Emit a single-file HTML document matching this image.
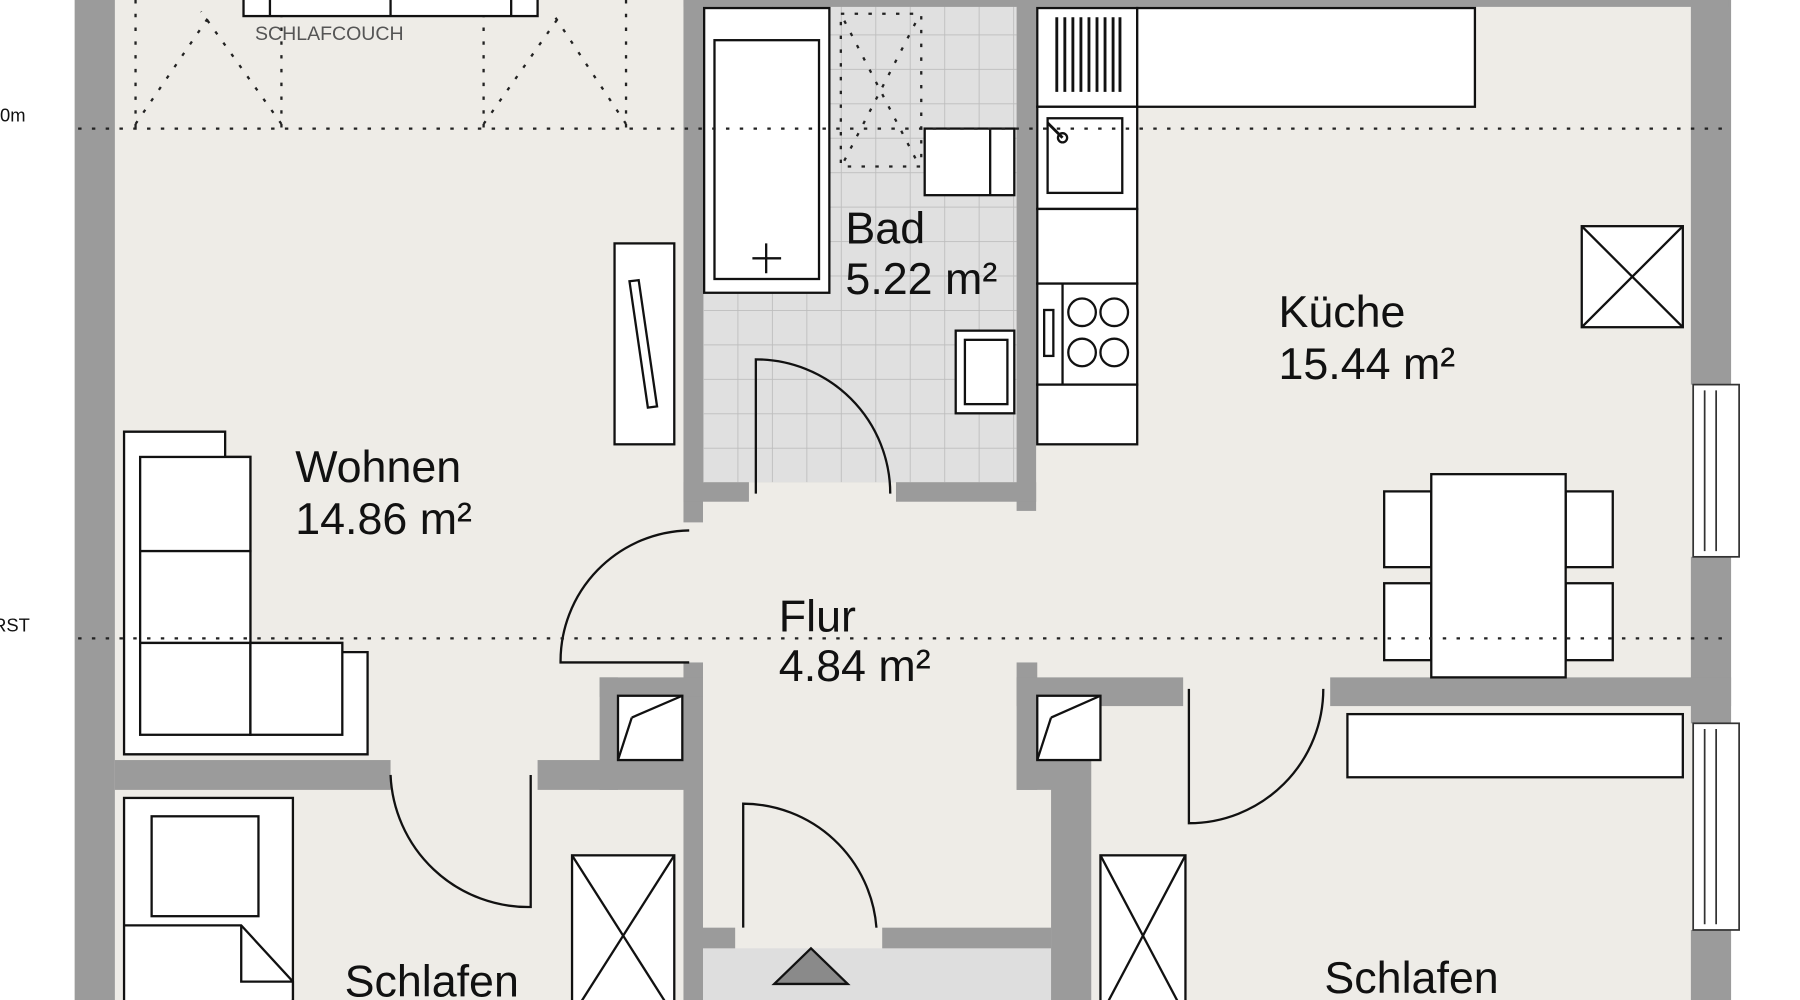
<!DOCTYPE html>
<html><head><meta charset="utf-8"><style>
html,body{margin:0;padding:0;background:#fff;}
svg{display:block}
text{font-family:"Liberation Sans",sans-serif;fill:#111}
</style></head><body>
<svg width="1800" height="1000" viewBox="0 0 1567 871" preserveAspectRatio="none" xmlns="http://www.w3.org/2000/svg">
<defs>
<pattern id="tile" x="612" y="0" width="30" height="30" patternUnits="userSpaceOnUse">
<rect width="30" height="30" fill="#e0e0e0"/>
<path d="M0 0H30M0 0V30" stroke="#bdbdbd" stroke-width="1.5"/>
</pattern>
</defs>
<rect x="0" y="0" width="1567" height="871" fill="#fff"/>
<rect x="65" y="0" width="1450" height="871" fill="#eeece7"/>
<rect x="1507" y="0" width="60" height="871" fill="#fff"/>
<rect x="612" y="5" width="273" height="415" fill="url(#tile)"/>
<rect x="612" y="826" width="303" height="45" fill="#dedede"/>
<polygon points="674,857 738,857 706,826" fill="#8a8a8a" stroke="#111" stroke-width="2"/>
<g stroke="#222" stroke-width="2" stroke-dasharray="3,9" fill="none">
<line x1="118" y1="0" x2="118" y2="112"/>
<line x1="245" y1="0" x2="245" y2="112"/>
<line x1="421" y1="0" x2="421" y2="112"/>
<line x1="545" y1="0" x2="545" y2="112"/>
<line x1="118" y1="108" x2="185" y2="10"/>
<line x1="245" y1="108" x2="175" y2="10"/>
<line x1="421" y1="108" x2="490" y2="10"/>
<line x1="545" y1="108" x2="480" y2="10"/>
<rect x="732" y="12" width="70" height="133"/>
<line x1="735" y1="140" x2="798" y2="18"/>
<line x1="735" y1="18" x2="798" y2="140"/>
</g>
<g fill="#fff" stroke="#111" stroke-width="2">
<rect x="212" y="-5" width="256" height="19"/>
<line x1="235" y1="0" x2="235" y2="14"/><line x1="340" y1="0" x2="340" y2="14"/><line x1="445" y1="0" x2="445" y2="14"/>
</g>
<text x="222" y="35" font-size="17" style="fill:#555">SCHLAFCOUCH</text>
<text x="0" y="106" font-size="16">0m</text>
<text x="-6" y="550" font-size="16">RST</text>
<g fill="#9b9b9b">
<rect x="65" y="0" width="35" height="871"/>
<rect x="1472" y="0" width="35" height="335"/>
<rect x="1472" y="485" width="35" height="145"/>
<rect x="1472" y="810" width="35" height="61"/>
<rect x="595" y="0" width="910" height="6"/>
<rect x="595" y="0" width="17" height="455"/>
<rect x="885" y="0" width="17" height="445"/>
<rect x="595" y="420" width="57" height="17"/>
<rect x="780" y="420" width="122" height="17"/>
<rect x="595" y="577" width="17" height="294"/>
<rect x="522" y="590" width="90" height="17"/>
<rect x="522" y="590" width="16" height="98"/>
<rect x="468" y="662" width="144" height="26"/>
<rect x="100" y="662" width="240" height="26"/>
<rect x="885" y="577" width="18" height="111"/>
<rect x="885" y="590" width="145" height="25"/>
<rect x="885" y="662" width="63" height="26"/>
<rect x="915" y="662" width="35" height="209"/>
<rect x="1158" y="590" width="349" height="25"/>
<rect x="612" y="808" width="28" height="18"/>
<rect x="768" y="808" width="147" height="18"/>
</g>
<g fill="#fff" stroke="#333" stroke-width="1.5">
<rect x="1474" y="335" width="40" height="150"/>
<line x1="1484" y1="340" x2="1484" y2="480"/><line x1="1494" y1="340" x2="1494" y2="480"/>
<rect x="1474" y="630" width="40" height="180"/>
<line x1="1484" y1="635" x2="1484" y2="805"/><line x1="1494" y1="635" x2="1494" y2="805"/>
</g>
<g fill="#fff" stroke="#111" stroke-width="2">
<rect x="538" y="606" width="56" height="56"/>
<line x1="538" y1="662" x2="550" y2="625"/><line x1="550" y1="625" x2="594" y2="606"/>
<rect x="903" y="606" width="55" height="56"/>
<line x1="903" y1="662" x2="915" y2="625"/><line x1="915" y1="625" x2="958" y2="606"/>
</g>
<g fill="#fff" stroke="#111" stroke-width="2">
<rect x="613" y="7" width="109" height="248"/>
<rect x="622" y="35" width="91" height="208"/>
<rect x="805" y="112" width="78" height="58"/><line x1="862" y1="112" x2="862" y2="170"/>
<rect x="832" y="288" width="51" height="72"/><rect x="840" y="296" width="37" height="56"/>
<rect x="903" y="7" width="87" height="86"/>
<rect x="990" y="7" width="294" height="86"/>
<rect x="903" y="93" width="87" height="89"/><rect x="912" y="103" width="65" height="65"/>
<rect x="903" y="182" width="87" height="65"/>
<rect x="903" y="247" width="87" height="88"/><line x1="925" y1="247" x2="925" y2="335"/>
<rect x="909" y="270" width="8" height="40"/>
<circle cx="942" cy="272" r="12"/><circle cx="970" cy="272" r="12"/><circle cx="942" cy="307" r="12"/><circle cx="970" cy="307" r="12"/>
<rect x="903" y="335" width="87" height="52"/>
<rect x="1377" y="197" width="88" height="88"/>
<line x1="1377" y1="197" x2="1465" y2="285"/><line x1="1465" y1="197" x2="1377" y2="285"/>
<rect x="1205" y="428" width="41" height="66"/><rect x="1205" y="508" width="41" height="67"/>
<rect x="1363" y="428" width="41" height="66"/><rect x="1363" y="508" width="41" height="67"/>
<rect x="1246" y="413" width="117" height="177"/>
<rect x="1173" y="622" width="292" height="55"/>
<rect x="535" y="212" width="52" height="175"/>
<polygon points="548,245 556,244 572,354 564,355"/>
<polygon points="108,376 196,376 196,398 218,398 218,560 298,560 298,568 320,568 320,657 108,657"/>
<rect x="122" y="398" width="96" height="82"/><rect x="122" y="480" width="96" height="80"/>
<rect x="122" y="560" width="96" height="80"/><rect x="218" y="560" width="80" height="80"/>
<rect x="108" y="695" width="147" height="190"/>
<rect x="132" y="711" width="93" height="87"/>
<polyline points="108,806 210,806 255,855 255,871"/>
<polyline points="210,806 210,855 255,855" fill="none"/>
<rect x="498" y="745" width="89" height="140"/>
<line x1="498" y1="745" x2="587" y2="885"/><line x1="587" y1="745" x2="498" y2="885"/>
<rect x="958" y="745" width="74" height="140"/>
<line x1="958" y1="745" x2="1032" y2="885"/><line x1="1032" y1="745" x2="958" y2="885"/>
</g>
<g fill="none" stroke="#111" stroke-width="2">
<path d="M658 430V313A117 117 0 0 1 775 430"/>
<path d="M600 462A114 114 0 0 0 488 577H600"/>
<path d="M1035 600V717A117 117 0 0 0 1152 600"/>
<path d="M340 675A120 120 0 0 0 462 790V675"/>
<path d="M647 808V700A117 117 0 0 1 763 808"/>
<path d="M655 225H680M667 212V238"/>
</g>
<g stroke="#111" stroke-width="2.5">
<line x1="920" y1="15" x2="920" y2="80"/><line x1="927" y1="15" x2="927" y2="80"/><line x1="934" y1="15" x2="934" y2="80"/><line x1="941" y1="15" x2="941" y2="80"/><line x1="948" y1="15" x2="948" y2="80"/><line x1="955" y1="15" x2="955" y2="80"/><line x1="962" y1="15" x2="962" y2="80"/><line x1="969" y1="15" x2="969" y2="80"/><line x1="975" y1="15" x2="975" y2="80"/>
<line x1="912" y1="107" x2="925" y2="120"/>
</g>
<circle cx="925" cy="120" r="4" fill="none" stroke="#111" stroke-width="2"/>
<g stroke="#222" stroke-width="2" stroke-dasharray="3,9" fill="none">
<line x1="68" y1="112" x2="1505" y2="112"/>
<line x1="68" y1="556" x2="1505" y2="556"/>
</g>
<g font-size="39">
<text x="736" y="212">Bad</text><text x="736" y="256">5.22 m²</text>
<text x="1113" y="285">Küche</text><text x="1113" y="330">15.44 m²</text>
<text x="257" y="420">Wohnen</text><text x="257" y="465">14.86 m²</text>
<text x="678" y="550">Flur</text><text x="678" y="593">4.84 m²</text>
<text x="300" y="868">Schlafen</text><text x="1153" y="865">Schlafen</text>
</g>
</svg>
</body></html>
